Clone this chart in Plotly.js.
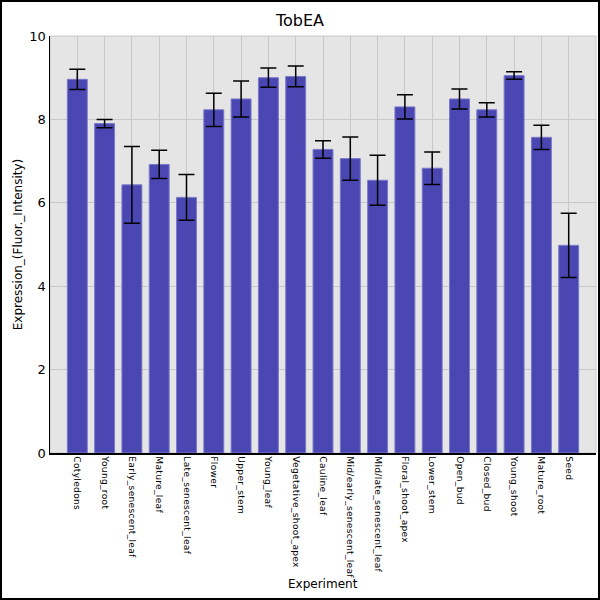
<!DOCTYPE html>
<html>
<head>
<meta charset="utf-8">
<script src="https://cdn.plot.ly/plotly-3.0.1.min.js"></script>
<style>
  html, body { margin: 0; padding: 0; background: #fff; }
  #wrap { position: relative; width: 600px; height: 600px; }
  #chart { width: 600px; height: 600px; }
  #chart .xtick text { letter-spacing: 0.3px; }
  #frame { position: absolute; left: 0; top: 0; width: 600px; height: 600px; box-sizing: border-box; border: 2px solid #000; pointer-events: none; }
</style>
</head>
<body>
<div id="wrap"><div id="chart"></div><div id="frame"></div></div>
<script>
const categories = ["Cotyledons","Young_root","Early_senescent_leaf","Mature_leaf","Late_senescent_leaf","Flower","Upper_stem","Young_leaf","Vegetative_shoot_apex","Cauline_leaf","Mid/early_senescent_leaf","Mid/late_senescent_leaf","Floral_shoot_apex","Lower_stem","Open_bud","Closed_bud","Young_shoot","Mature_root","Seed"];
const values = [8.96, 7.90, 6.43, 6.92, 6.13, 8.23, 8.49, 9.00, 9.03, 7.28, 7.06, 6.54, 8.30, 6.83, 8.49, 8.23, 9.05, 7.57, 4.98];
const errors = [0.24, 0.10, 0.92, 0.34, 0.55, 0.40, 0.43, 0.23, 0.25, 0.21, 0.52, 0.60, 0.29, 0.39, 0.24, 0.17, 0.09, 0.29, 0.77];
const yTicks = [0, 2, 4, 6, 8, 10];
const xTitle = "Experiment";
const yTitle = "Expression_(Fluor._Intensity)";

const font = "DejaVu Sans, sans-serif";
const trace = {
  type: "bar",
  x: categories,
  y: values,
  width: 0.73,
  marker: { color: "#4a47b3", line: { color: "#7a78c8", width: 1 } },
  error_y: { type: "data", array: errors, visible: true, color: "#000", thickness: 1.5, width: 8 },
  hoverinfo: "x+y"
};
const layout = {
  width: 600, height: 600,
  margin: { l: 50, r: 4, t: 36, b: 147, pad: 0 },
  paper_bgcolor: "#fff",
  plot_bgcolor: "#e5e5e5",
  font: { family: font, color: "#000" },
  title: { text: "TobEA", font: { family: font, size: 16, color: "#000" }, x: 0.5, xref: "container", y: 1 - 20/600, yref: "container", yanchor: "middle" },
  showlegend: false,
  bargap: 0,
  xaxis: {
    type: "category",
    range: [-1, 19],
    tickangle: 90,
    tickfont: { family: font, size: 9.1, color: "#000" },
    showgrid: true, gridcolor: "#c8c8c8", gridwidth: 1,
    showline: true, linecolor: "#000", linewidth: 1.5,
    ticks: "", ticklen: 0,
    automargin: false,
    fixedrange: true
  },
  yaxis: {
    range: [0, 10],
    tickvals: yTicks,
    ticktext: yTicks.map(String),
    tickfont: { family: font, size: 13, color: "#000" },
    showgrid: true, gridcolor: "#c8c8c8", gridwidth: 1,
    zeroline: false,
    showline: true, linecolor: "#000", linewidth: 1.5,
    ticks: "", ticklen: 0,
    title: { text: yTitle, font: { family: font, size: 12, color: "#000" }, standoff: 4 },
    automargin: false,
    fixedrange: true
  },
  annotations: [
    { text: xTitle, xref: "paper", yref: "paper", x: 0.5, y: -(584 - 453) / 417, xanchor: "center", yanchor: "middle", showarrow: false, font: { family: font, size: 12, color: "#000" } }
  ],
  shapes: [
    { type: "rect", xref: "paper", yref: "paper", x0: 0, x1: 1, y0: 0, y1: 1, line: { color: "#c8c8c8", width: 1 }, layer: "below" }
  ]
};
Plotly.newPlot("chart", [trace], layout, { displayModeBar: false, staticPlot: true });
</script>
</body>
</html>
